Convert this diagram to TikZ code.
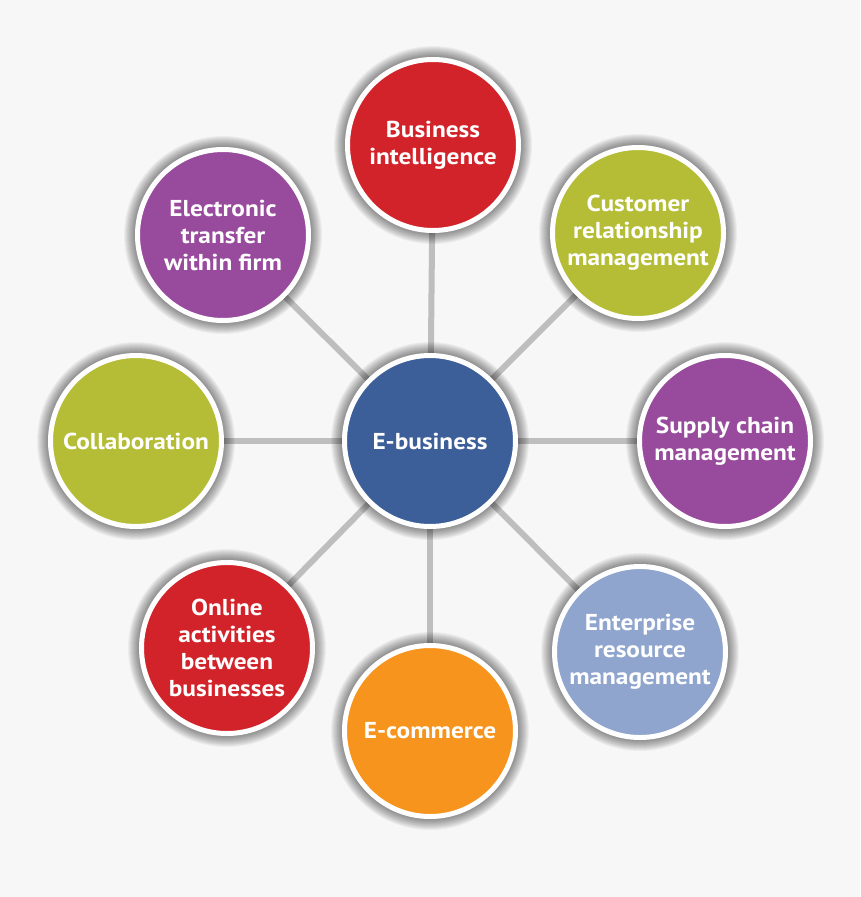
\documentclass[tikz,border=0pt]{standalone}
\usepackage{fontspec}
\setmainfont{PT Sans}[FakeStretch=1.1]
\definecolor{bgc}{HTML}{F7F7F7}
\definecolor{linec}{HTML}{BEBEBE}
\definecolor{cblue}{HTML}{3C5F99}
\definecolor{cred}{HTML}{D2232A}
\definecolor{cgreen}{HTML}{B4BD35}
\definecolor{cpurple}{HTML}{984B9C}
\definecolor{clblue}{HTML}{8FA5CE}
\definecolor{corange}{HTML}{F7941E}
\tikzset{
  bub/.style={circle, draw=white, line width=5pt, minimum size=171pt, inner sep=0pt,
    text=white, align=center, font=\bfseries\fontsize{23}{27}\selectfont},
  conn/.style={draw=linec, line width=6pt},
}
\newcommand{\glowat}[1]{%
  \foreach \i in {1,...,11}{\fill[black, opacity=0.045] (#1) circle[radius=88pt+\i pt];}%
}
\begin{document}
\begin{tikzpicture}[x=1pt,y=-1pt]
\fill[bgc] (0,0) rectangle (860,897);
\useasboundingbox (0,0) rectangle (860,897);
% coordinates of centres
\coordinate (pc) at (430,441);
\coordinate (pbi) at (433,145);
\coordinate (pcrm) at (638,233);
\coordinate (psc) at (725,441);
\coordinate (perm) at (640,652);
\coordinate (pec) at (430,731);
\coordinate (poa) at (227,648);
\coordinate (pco) at (136,441);
\coordinate (pet) at (223,235);
% connectors
\foreach \p in {pbi,pcrm,psc,perm,pec,poa,pco,pet}{\draw[conn] (pc) -- (\p);}
% glows
\foreach \p in {pc,pbi,pcrm,psc,perm,pec,poa,pco,pet}{\glowat{\p}}
% bubbles
\node[bub, fill=cblue] (c) at (pc) {E-business};
\node[bub, fill=cred] (bi) at (pbi) {Business\\intelligence};
\node[bub, fill=cgreen] (crm) at (pcrm) {Customer\\relationship\\management};
\node[bub, fill=cpurple] (sc) at (psc) {Supply chain\\management};
\node[bub, fill=clblue] (erm) at (perm) {Enterprise\\resource\\management};
\node[bub, fill=corange] (ec) at (pec) {E-commerce};
\node[bub, fill=cred] (oa) at (poa) {Online\\activities\\between\\businesses};
\node[bub, fill=cgreen] (co) at (pco) {Collaboration};
\node[bub, fill=cpurple] (et) at (pet) {Electronic\\transfer\\within firm};
\end{tikzpicture}
\end{document}
